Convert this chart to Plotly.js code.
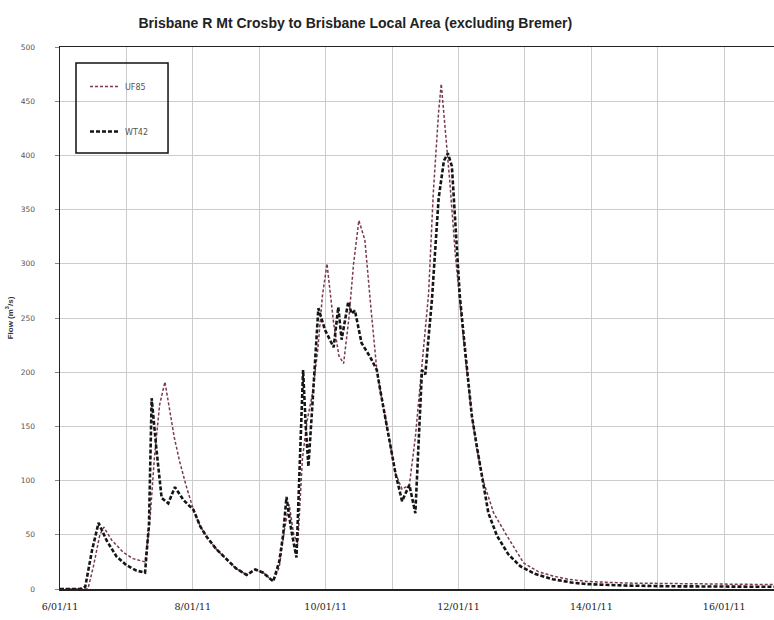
<!DOCTYPE html>
<html>
<head>
<meta charset="utf-8">
<script src="https://cdn.plot.ly/plotly-3.0.1.min.js"></script>
<style>html,body{margin:0;padding:0;background:#fff;}#chart{width:774px;height:620px;}</style>
</head>
<body>
<div id="chart"></div>
<script>
// Day of January 2011 (fractional) and flow (m3/s)
const uf85Days = [6.0, 6.3, 6.42, 6.5, 6.6, 6.66, 6.78, 6.95, 7.1, 7.28, 7.35, 7.42, 7.5, 7.58, 7.65, 7.72, 7.8, 7.9, 8.01, 8.11, 8.21, 8.35, 8.51, 8.65, 8.81, 8.94, 9.06, 9.21, 9.3, 9.38, 9.45, 9.52, 9.58, 9.65, 9.72, 9.8, 9.88, 9.95, 10.02, 10.12, 10.2, 10.27, 10.35, 10.42, 10.5, 10.59, 10.68, 10.77, 10.82, 10.92, 11.05, 11.15, 11.26, 11.35, 11.45, 11.55, 11.62, 11.7, 11.74, 11.8, 11.87, 11.95, 12.02, 12.1, 12.2, 12.28, 12.37, 12.53, 12.73, 12.98, 13.2, 13.42, 13.65, 13.93, 14.5, 15.19, 16.0, 16.8];
const uf85Flow = [0, 0, 0, 20, 50, 57, 45, 34, 28, 25, 60, 120, 170, 191, 165, 140, 118, 95, 73, 58, 48, 37, 27, 19, 13, 18, 15, 7, 20, 55, 78, 50, 42, 120, 155, 180, 220, 270, 300, 245, 215, 208, 250, 300, 340, 322, 260, 202, 184, 150, 107, 92, 96, 140, 210, 273, 365, 440, 466, 425, 375, 310, 265, 215, 160, 128, 100, 70, 49, 24, 16, 12, 9, 7, 5.5, 5, 4.5, 4];

const wt42Days = [6.0, 6.3, 6.38, 6.48, 6.58, 6.7, 6.85, 7.0, 7.15, 7.28, 7.34, 7.38, 7.45, 7.53, 7.63, 7.73, 7.86, 8.01, 8.11, 8.21, 8.35, 8.51, 8.65, 8.81, 8.94, 9.06, 9.21, 9.3, 9.36, 9.41, 9.48, 9.56, 9.6, 9.66, 9.7, 9.74, 9.8, 9.89, 9.99, 10.12, 10.19, 10.24, 10.34, 10.39, 10.44, 10.54, 10.67, 10.77, 10.82, 10.92, 11.05, 11.15, 11.26, 11.35, 11.45, 11.5, 11.6, 11.7, 11.78, 11.84, 11.9, 11.96, 12.02, 12.1, 12.2, 12.28, 12.36, 12.45, 12.58, 12.75, 12.93, 13.15, 13.42, 13.7, 13.93, 14.5, 15.19, 16.0, 16.8];
const wt42Flow = [0, 0, 2, 35, 61, 45, 30, 22, 17, 15, 60, 176, 130, 84, 79, 94, 82, 73, 58, 48, 37, 27, 19, 13, 18, 15, 7, 25, 50, 85, 55, 29, 100, 202, 150, 113, 170, 259, 239, 223, 260, 230, 265, 254, 257, 227, 214, 202, 184, 150, 107, 81, 96, 70, 202, 198, 267, 360, 395, 402, 390, 330, 270, 220, 160, 130, 100, 70, 49, 32, 21, 14, 9, 6, 4.5, 3.2, 2.5, 2.2, 2];

const seriesNames = ["UF85", "WT42"];
const tickDays = [6, 8, 10, 12, 14, 16];
const tickLabels = ["6/01/11", "8/01/11", "10/01/11", "12/01/11", "14/01/11", "16/01/11"];
const yTicks = [0, 50, 100, 150, 200, 250, 300, 350, 400, 450, 500];

const traces = [
  {x: uf85Days, y: uf85Flow, name: seriesNames[0], type: "scatter", mode: "lines",
   legendgroup: "a", line: {color: "#7a3a50", width: 1.5, dash: "3px,2px"}},
  {x: wt42Days, y: wt42Flow, name: seriesNames[1], type: "scatter", mode: "lines",
   legendgroup: "b", line: {color: "#151515", width: 2.6, dash: "4px,2px"}}
];

const layout = {
  width: 774, height: 620,
  margin: {l: 60, r: 0, t: 47, b: 31, pad: 0},
  paper_bgcolor: "#ffffff", plot_bgcolor: "#ffffff",
  title: {text: "<b>Brisbane R Mt Crosby to Brisbane Local Area (excluding Bremer)</b>",
    font: {family: "Liberation Sans, Arial, sans-serif", size: 14, color: "#222"},
    xref: "container", yref: "container", x: 0.459, xanchor: "center", y: 0.963, yanchor: "middle"},
  xaxis: {range: [6, 16.75], tickmode: "array", tickvals: tickDays, ticktext: tickLabels,
    showgrid: true, gridcolor: "#cccccc", gridwidth: 1, zeroline: false,
    minor: {tickmode: "linear", tick0: 6, dtick: 1, showgrid: true, gridcolor: "#cccccc", gridwidth: 1, ticks: ""},
    showline: true, linecolor: "#222", linewidth: 1.5, mirror: true, ticks: "",
    ticklabelstandoff: 8,
    tickfont: {family: "DejaVu Serif, serif", size: 9.5, color: "#222"}},
  yaxis: {range: [0, 500], tickmode: "array", tickvals: yTicks,
    showgrid: true, gridcolor: "#cccccc", gridwidth: 1, zeroline: false,
    showline: true, linecolor: "#222", linewidth: 1.5, ticks: "outside", ticklen: 4, tickcolor: "#888",
    ticklabelstandoff: 18,
    tickfont: {family: "DejaVu Sans, sans-serif", size: 7.5, color: "#555"},
    title: {text: "<b>Flow (m<sup>3</sup>/s)</b>", standoff: 6,
      font: {family: "Liberation Sans, Arial, sans-serif", size: 8, color: "#333"}}},
  showlegend: true,
  legend: {x: 0.035, y: 0.954, xanchor: "left", yanchor: "top", bgcolor: "rgba(0,0,0,0)",
    borderwidth: 0, traceorder: "grouped", tracegroupgap: 26,
    font: {family: "DejaVu Sans, sans-serif", size: 8, color: "#555"}},
  shapes: [{type: "rect", xref: "paper", yref: "paper", x0: 0.0224, x1: 0.1513, y0: 0.8046, y1: 0.9705,
    line: {color: "#111", width: 1.5}, fillcolor: "rgba(0,0,0,0)"}]
};

Plotly.newPlot("chart", traces, layout, {displayModeBar: false, staticPlot: true});
</script>
</body>
</html>
